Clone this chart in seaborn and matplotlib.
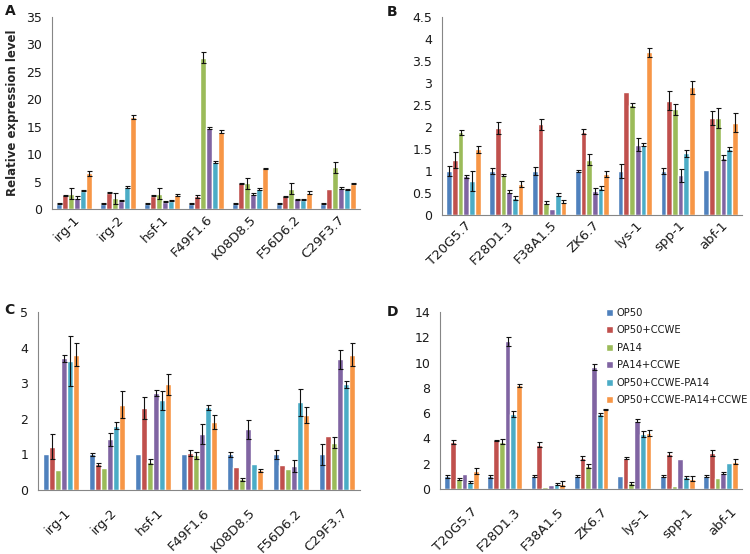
import numpy as np
import pandas as pd
import matplotlib
matplotlib.use("Agg")
import matplotlib.pyplot as plt
import matplotlib.transforms as mtransforms
import seaborn as sns

# treatments (legend order) and Excel-style colours
treatments = ["OP50", "OP50+CCWE", "PA14", "PA14+CCWE", "OP50+CCWE-PA14", "OP50+CCWE-PA14+CCWE"]
colors = ["#4F81BD", "#C0504D", "#9BBB59", "#8064A2", "#4BACC6", "#F79646"]

genes_ac = ["irg-1", "irg-2", "hsf-1", "F49F1.6", "K08D8.5", "F56D6.2", "C29F3.7"]
genes_bd = ["T20G5.7", "F28D1.3", "F38A1.5", "ZK6.7", "lys-1", "spp-1", "abf-1"]

# Panel A: one row per treatment, one value per gene
a_mean = [[1.0, 1.0, 1.0, 1.0, 1.0, 1.0, 1.0],
          [2.5, 3.0, 2.4, 2.3, 4.7, 2.3, 3.7],
          [2.8, 2.0, 2.8, 27.6, 4.7, 3.7, 7.6],
          [2.1, 1.5, 1.3, 14.8, 2.8, 1.8, 3.8],
          [3.3, 4.0, 1.5, 8.5, 3.6, 1.7, 3.6],
          [6.5, 16.8, 2.6, 14.1, 7.4, 3.0, 4.6]]
a_err = [[0.1, 0.1, 0.1, 0.1, 0.1, 0.1, 0.1],
         [0.1, 0.1, 0.1, 0.2, 0.1, 0.1, 0.0],
         [1.0, 1.0, 1.0, 1.0, 1.0, 1.0, 1.0],
         [0.2, 0.1, 0.1, 0.2, 0.2, 0.1, 0.2],
         [0.1, 0.2, 0.1, 0.2, 0.2, 0.1, 0.1],
         [0.4, 0.4, 0.2, 0.3, 0.1, 0.2, 0.1]]

# Panel B
b_mean = [[1.0, 1.0, 1.0, 1.0, 1.0, 1.0, 1.02],
          [1.25, 1.97, 2.06, 1.89, 2.8, 2.6, 2.2],
          [1.88, 0.91, 0.28, 1.26, 2.5, 2.4, 2.2],
          [0.88, 0.53, 0.14, 0.55, 1.6, 0.9, 1.3],
          [0.77, 0.38, 0.46, 0.62, 1.6, 1.4, 1.5],
          [1.49, 0.70, 0.30, 0.93, 3.7, 2.9, 2.1]]
b_err = [[0.12, 0.07, 0.10, 0.03, 0.17, 0.06, 0.0],
         [0.18, 0.14, 0.12, 0.06, 0.0, 0.22, 0.16],
         [0.06, 0.03, 0.04, 0.13, 0.05, 0.12, 0.23],
         [0.04, 0.04, 0.0, 0.07, 0.15, 0.15, 0.06],
         [0.22, 0.05, 0.03, 0.05, 0.04, 0.08, 0.04],
         [0.08, 0.07, 0.03, 0.07, 0.10, 0.15, 0.22]]

# Panel C
c_mean = [[1.0, 1.0, 1.0, 1.0, 1.0, 1.0, 1.0],
          [1.22, 0.72, 2.3, 1.04, 0.66, 0.70, 1.52],
          [0.57, 0.62, 0.80, 0.98, 0.30, 0.58, 1.33],
          [3.70, 1.42, 2.72, 1.57, 1.70, 0.67, 3.67],
          [3.63, 1.80, 2.52, 2.32, 0.73, 2.47, 2.97],
          [3.80, 2.40, 2.97, 1.92, 0.55, 2.10, 3.80]]
c_err = [[0.0, 0.05, 0.0, 0.0, 0.07, 0.13, 0.30],
         [0.36, 0.05, 0.30, 0.09, 0.0, 0.0, 0.0],
         [0.0, 0.0, 0.06, 0.10, 0.04, 0.0, 0.15],
         [0.10, 0.18, 0.08, 0.29, 0.28, 0.17, 0.26],
         [0.70, 0.10, 0.27, 0.06, 0.0, 0.38, 0.10],
         [0.32, 0.38, 0.30, 0.20, 0.03, 0.23, 0.33]]

# Panel D
d_mean = [[1.0, 1.0, 1.0, 1.0, 1.0, 1.0, 1.0],
          [3.7, 3.85, 3.5, 2.45, 2.45, 2.8, 2.85],
          [0.8, 3.75, 0.18, 1.85, 0.45, 0.25, 0.9],
          [1.15, 11.7, 0.3, 9.65, 5.4, 2.35, 1.25],
          [0.55, 5.95, 0.4, 5.9, 4.35, 0.93, 2.05],
          [1.45, 8.2, 0.43, 6.3, 4.45, 0.8, 2.15]]
d_err = [[0.1, 0.12, 0.08, 0.07, 0.0, 0.07, 0.08],
         [0.15, 0.05, 0.2, 0.15, 0.05, 0.15, 0.25],
         [0.05, 0.2, 0.0, 0.15, 0.1, 0.0, 0.0],
         [0.0, 0.35, 0.0, 0.2, 0.1, 0.0, 0.08],
         [0.1, 0.25, 0.1, 0.1, 0.2, 0.1, 0.0],
         [0.25, 0.1, 0.2, 0.05, 0.25, 0.2, 0.2]]

sns.set_style("white")
plt.rcParams["font.family"] = ["DejaVu Sans"]
plt.rcParams["text.color"] = "#1a1a1a"

fig = plt.figure(figsize=(7.5, 5.54), dpi=100)


def panel(rect, genes, mean, err, ymax, ystep, letter, letter_xy, xpad, xshift, legend=False):
    ax = fig.add_axes(rect)
    rows = []
    for t, vals in zip(treatments, mean):
        for g, v in zip(genes, vals):
            rows.append({"gene": g, "treatment": t, "value": v})
    df = pd.DataFrame(rows)
    sns.barplot(data=df, x="gene", y="value", hue="treatment", order=genes,
                hue_order=treatments, palette=colors, saturation=1,
                errorbar=None, width=0.8, legend=legend, ax=ax)
    # error bars on each bar
    for cont, errs in zip(ax.containers, err):
        for bar, e in zip(cont, errs):
            if e > 0:
                ax.errorbar(bar.get_x() + bar.get_width() / 2, bar.get_height(),
                            yerr=e, fmt="none", ecolor="#111111",
                            elinewidth=0.8, capsize=1.8, capthick=0.8)
    ax.set_ylim(0, ymax)
    ticks = np.arange(0, ymax + ystep / 2, ystep)
    ax.set_yticks(ticks)
    ax.set_yticklabels([("%g" % t) for t in ticks], color="#1a1a1a")
    ax.set_xlim(-0.5, len(genes) - 0.5)
    ax.set_xticks(range(len(genes)))
    ax.set_xticklabels(genes, rotation=45, ha="right", va="center",
                       rotation_mode="anchor", color="#1a1a1a")
    ax.set_xticks(np.arange(-0.5, len(genes)), minor=True)
    ax.tick_params(axis="x", which="major", length=0, pad=xpad, labelsize=9.5)
    ax.tick_params(axis="x", which="minor", length=4, width=0.8, color="#868686")
    ax.tick_params(axis="y", length=3, width=0.8, color="#868686", labelsize=9, pad=4)
    shift = mtransforms.ScaledTranslation(xshift / 72, 0, fig.dpi_scale_trans)
    for lab in ax.get_xticklabels():
        lab.set_transform(lab.get_transform() + shift)
    ax.set_xlabel("")
    ax.set_ylabel("")
    for s in ["top", "right"]:
        ax.spines[s].set_visible(False)
    for s in ["left", "bottom"]:
        ax.spines[s].set_color("#868686")
        ax.spines[s].set_linewidth(0.8)
    fig.text(letter_xy[0], letter_xy[1], letter, fontsize=10, fontweight="bold",
             va="center", ha="left")
    return ax


ax_a = panel([0.0693, 0.6227, 0.4107, 0.3466], genes_ac, a_mean, a_err, 35, 5, "A", (0.006, 0.98), 6, 3)
ax_a.set_ylabel("Relative expression level", fontsize=8.5, fontweight="bold", labelpad=5)
ax_b = panel([0.5893, 0.6119, 0.4000, 0.3574], genes_bd, b_mean, b_err, 4.5, 0.5, "B", (0.515, 0.978), 6, 4)
ax_c = panel([0.0507, 0.1155, 0.4293, 0.3213], genes_ac, c_mean, c_err, 5, 1, "C", (0.006, 0.44), 15, 6)
ax_d = panel([0.5867, 0.1173, 0.4027, 0.3195], genes_bd, d_mean, d_err, 14, 2, "D", (0.515, 0.437), 15, 10,
             legend=True)
ax_d.legend(loc="upper left", bbox_to_anchor=(0.55, 1.025), frameon=False,
            handlelength=0.7, handleheight=0.7, handletextpad=0.35, borderpad=0,
            labelspacing=0.75, fontsize=7.2, borderaxespad=0)

fig.savefig("out.png", dpi=100)
